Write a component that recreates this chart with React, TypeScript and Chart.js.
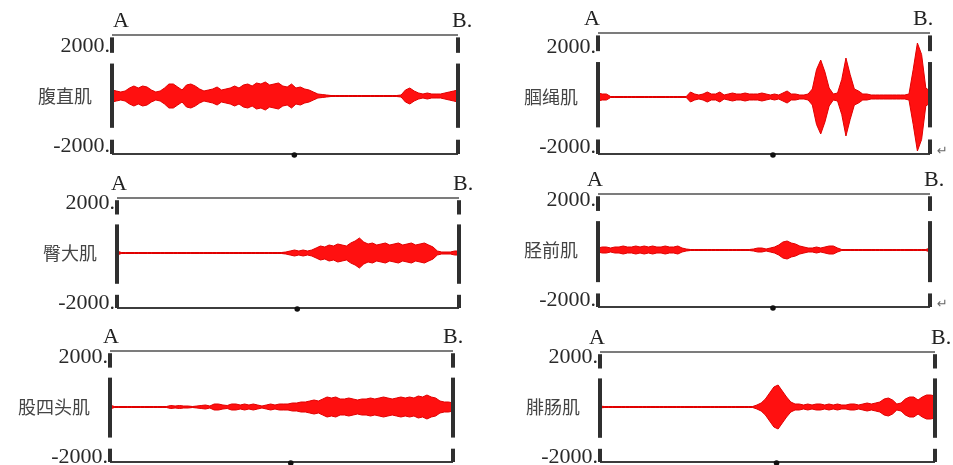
import React, { useEffect, useRef } from "react";
import { Chart, registerables } from "chart.js";

Chart.register(...registerables);

// ---- data (EMG envelope amplitude per time bin, µV) ----
const MUSCLES = ["腹直肌", "腘绳肌", "臀大肌", "胫前肌", "股四头肌", "腓肠肌"];
const TICK_VALUES = [-2000, 0, 2000];
const START_LABEL = "A";
const END_LABEL = "B.";

const EMG_RECTUS_ABDOMINIS = [
  240, 200, 160, 200, 320, 400, 320, 400, 360, 240,
  160, 200, 320, 480, 480, 360, 240, 440, 480, 400,
  280, 200, 240, 280, 360, 240, 280, 320, 400, 320,
  440, 480, 400, 520, 480, 560, 440, 480, 520, 400,
  360, 480, 320, 360, 280, 240, 160, 80, 60, 40,
  20, 20, 20, 20, 20, 20, 20, 20, 20, 20,
  20, 20, 20, 20, 20, 20, 40, 240, 320, 200,
  120, 80, 120, 80, 80, 80, 120, 160, 200, 240,
];
const EMG_HAMSTRINGS = [
  160, 120, 120, 20, 20, 20, 20, 20, 20, 20,
  20, 20, 20, 20, 20, 20, 20, 20, 20, 20,
  20, 20, 200, 120, 80, 120, 200, 120, 120, 200,
  80, 120, 160, 120, 120, 160, 120, 120, 120, 160,
  120, 80, 120, 80, 160, 240, 120, 120, 80, 80,
  120, 320, 1100, 1480, 1000, 360, 120, 160, 700, 1560,
  900, 320, 240, 120, 120, 80, 80, 80, 80, 80,
  80, 80, 80, 80, 120, 1100, 2160, 1700, 360, 240,
];
const EMG_GLUTEUS_MAXIMUS = [
  80, 20, 20, 20, 20, 20, 20, 20, 20, 20,
  20, 20, 20, 20, 20, 20, 20, 20, 20, 20,
  20, 20, 20, 20, 20, 20, 20, 20, 20, 20,
  20, 20, 20, 20, 20, 20, 20, 20, 20, 40,
  80, 120, 80, 120, 80, 120, 200, 280, 240, 320,
  280, 360, 320, 280, 400, 480, 600, 440, 360, 400,
  320, 360, 400, 320, 360, 400, 320, 360, 400, 320,
  360, 400, 320, 240, 80, 40, 40, 40, 80, 80,
];
const EMG_TIBIALIS_ANTERIOR = [
  80, 120, 120, 80, 120, 120, 160, 120, 120, 160,
  120, 160, 120, 160, 120, 120, 160, 120, 120, 160,
  80, 40, 20, 20, 20, 20, 20, 20, 20, 20,
  20, 20, 20, 20, 20, 20, 20, 40, 80, 80,
  40, 80, 120, 200, 320, 360, 280, 240, 160, 120,
  80, 80, 120, 80, 120, 160, 160, 80, 20, 20,
  20, 20, 20, 20, 20, 20, 20, 20, 20, 20,
  20, 20, 20, 20, 20, 20, 20, 20, 20, 80,
];
const EMG_QUADRICEPS = [
  80, 20, 20, 20, 20, 20, 20, 20, 20, 20,
  20, 20, 20, 20, 60, 40, 60, 40, 40, 20,
  40, 60, 80, 40, 120, 120, 80, 60, 120, 120,
  80, 120, 80, 120, 80, 40, 80, 120, 80, 120,
  120, 120, 160, 160, 200, 200, 240, 280, 240, 320,
  400, 360, 400, 320, 320, 360, 320, 280, 320, 320,
  360, 320, 360, 400, 360, 320, 360, 400, 360, 400,
  360, 440, 400, 480, 400, 360, 240, 200, 200, 160,
];
const EMG_GASTROCNEMIUS = [
  40, 20, 20, 20, 20, 20, 20, 20, 20, 20,
  20, 20, 20, 20, 20, 20, 20, 20, 20, 20,
  20, 20, 20, 20, 20, 20, 20, 20, 20, 20,
  20, 20, 20, 20, 20, 20, 20, 80, 160, 320,
  560, 800, 880, 640, 400, 200, 120, 120, 80, 120,
  80, 120, 120, 80, 120, 80, 120, 80, 80, 120,
  120, 80, 120, 160, 120, 160, 200, 320, 360, 280,
  120, 160, 320, 400, 400, 280, 400, 480, 480, 440,
];

const SERIES = [
  EMG_RECTUS_ABDOMINIS,
  EMG_HAMSTRINGS,
  EMG_GLUTEUS_MAXIMUS,
  EMG_TIBIALIS_ANTERIOR,
  EMG_QUADRICEPS,
  EMG_GASTROCNEMIUS,
];
const Y_MIN = [-2320, -2280, -2200, -2280, -2200, -2200];
const Y_MAX = [2440, 2560, 2200, 2240, 2240, 2200];

// ---- layout (canvas box + plot box, page pixels) ----
type Lay = {
  cx: number; cy: number; cw: number; ch: number;
  l: number; r: number; t: number; b: number;
  aDx: number; bDx: number; ret: boolean;
};
const LAYOUT: Lay[] = [
  { cx: 0, cy: 0, cw: 476, ch: 172, l: 112, r: 458, t: 35, b: 154, aDx: 9, bDx: 2, ret: false },
  { cx: 476, cy: 0, cw: 477, ch: 172, l: 598, r: 930, t: 33, b: 154, aDx: -6, bDx: -9, ret: true },
  { cx: 0, cy: 160, cw: 476, ch: 166, l: 117, r: 459, t: 198, b: 308, aDx: 2, bDx: 2, ret: false },
  { cx: 476, cy: 160, cw: 477, ch: 166, l: 598, r: 930, t: 194, b: 307, aDx: -3, bDx: 2, ret: true },
  { cx: 0, cy: 315, cw: 476, ch: 165, l: 110, r: 453, t: 351, b: 462, aDx: 1, bDx: -2, ret: false },
  { cx: 476, cy: 315, cw: 477, ch: 165, l: 600, r: 935, t: 352, b: 462, aDx: -3, bDx: 4, ret: false },
];

const SERIF = "'Liberation Serif', 'Times New Roman', serif";
const CJK = "'Noto Sans CJK SC', 'Noto Sans', sans-serif";
const RED = "#ff1010";
const RED_EDGE = "#e00000";

function Panel({ idx }: { idx: number }) {
  const ref = useRef<HTMLCanvasElement>(null);
  const lay = LAYOUT[idx];
  const name = MUSCLES[idx];
  const amp = SERIES[idx];

  useEffect(() => {
    if (!ref.current) return;
    const labels = amp.map((_, i) => String(i));

    const framePlugin = {
      id: "emgFrame",
      beforeDatasetsDraw(chart: any) {
        const { ctx, chartArea: a, scales } = chart;
        const y0 = scales.y.getPixelForValue(0);
        ctx.save();
        ctx.lineCap = "butt";
        ctx.strokeStyle = "#7c7c7c";
        ctx.lineWidth = 2;
        ctx.beginPath();
        ctx.moveTo(a.left, a.top);
        ctx.lineTo(a.right, a.top);
        ctx.stroke();
        ctx.strokeStyle = "#3c3c3c";
        ctx.beginPath();
        ctx.moveTo(a.left, a.bottom);
        ctx.lineTo(a.right, a.bottom);
        ctx.stroke();
        ctx.strokeStyle = "#e42525";
        ctx.lineWidth = 1.5;
        ctx.beginPath();
        ctx.moveTo(a.left, y0);
        ctx.lineTo(a.right, y0);
        ctx.stroke();
        ctx.restore();
      },
      afterDatasetsDraw(chart: any) {
        const { ctx, chartArea: a } = chart;
        const h = a.bottom - a.top;
        const segs = [
          [0.02, 0.15],
          [0.24, 0.78],
          [0.88, 1.0],
        ];
        ctx.save();
        ctx.strokeStyle = "#2f2f2f";
        ctx.lineWidth = 4;
        for (const x of [a.left, a.right]) {
          for (const [s, e] of segs) {
            ctx.beginPath();
            ctx.moveTo(x, a.top + s * h);
            ctx.lineTo(x, a.top + e * h);
            ctx.stroke();
          }
        }
        ctx.fillStyle = "#111";
        ctx.beginPath();
        ctx.arc(a.left + (a.right - a.left) * 0.527, a.bottom + 1, 2.8, 0, Math.PI * 2);
        ctx.fill();
        ctx.fillStyle = "#222";
        ctx.font = `22px ${SERIF}`;
        ctx.textBaseline = "middle";
        ctx.textAlign = "center";
        ctx.fillText(START_LABEL, a.left + lay.aDx, a.top - 14);
        ctx.textAlign = "left";
        ctx.fillText(END_LABEL, a.right + lay.bDx - 8, a.top - 14);
        if (lay.ret) {
          ctx.fillStyle = "#666";
          ctx.font = `13px 'DejaVu Sans', sans-serif`;
          ctx.fillText("↵", a.right + 7, a.bottom - 2);
        }
        ctx.restore();
      },
    };

    const chart = new Chart(ref.current, {
      type: "line",
      data: {
        labels,
        datasets: [
          {
            data: amp,
            borderColor: RED_EDGE,
            backgroundColor: RED,
            borderWidth: 1,
            pointRadius: 0,
            tension: 0,
            fill: false,
          },
          {
            data: amp.map((v) => -v),
            borderColor: RED_EDGE,
            backgroundColor: RED,
            borderWidth: 1,
            pointRadius: 0,
            tension: 0,
            fill: "-1",
          },
        ],
      },
      options: {
        responsive: false,
        animation: false,
        devicePixelRatio: 1,
        layout: {
          padding: {
            left: 0,
            right: lay.cx + lay.cw - lay.r,
            top: lay.t - lay.cy,
            bottom: lay.cy + lay.ch - lay.b,
          },
        },
        plugins: {
          legend: { display: false },
          tooltip: { enabled: false },
        },
        scales: {
          x: { display: false, offset: false },
          y: {
            min: Y_MIN[idx],
            max: Y_MAX[idx],
            afterBuildTicks: (s: any) => {
              s.ticks = TICK_VALUES.map((v) => ({ value: v }));
            },
            afterFit: (s: any) => {
              s.width = lay.l - lay.cx;
            },
            grid: { display: false, drawTicks: false },
            border: { display: false },
            ticks: {
              padding: 2,
              autoSkip: false,
              callback: (v: any) => (Number(v) === 0 ? name + "\u3000" : `${v}.`),
              font: (c: any) =>
                c.tick && c.tick.value === 0
                  ? { family: CJK, size: 18 }
                  : { family: SERIF, size: 22 },
              color: (c: any) => (c.tick && c.tick.value === 0 ? "#444" : "#2a2a2a"),
            },
          },
        },
      },
      plugins: [framePlugin],
    } as any);
    return () => chart.destroy();
  }, []);

  return (
    <canvas
      ref={ref}
      width={lay.cw}
      height={lay.ch}
      style={{ position: "absolute", left: lay.cx, top: lay.cy, width: lay.cw, height: lay.ch }}
    />
  );
}

export default function App() {
  return (
    <div
      style={{
        position: "absolute",
        left: 0,
        top: 0,
        width: 953,
        height: 465,
        overflow: "hidden",
        background: "#fff",
      }}
    >
      {MUSCLES.map((_, i) => (
        <Panel key={i} idx={i} />
      ))}
    </div>
  );
}
